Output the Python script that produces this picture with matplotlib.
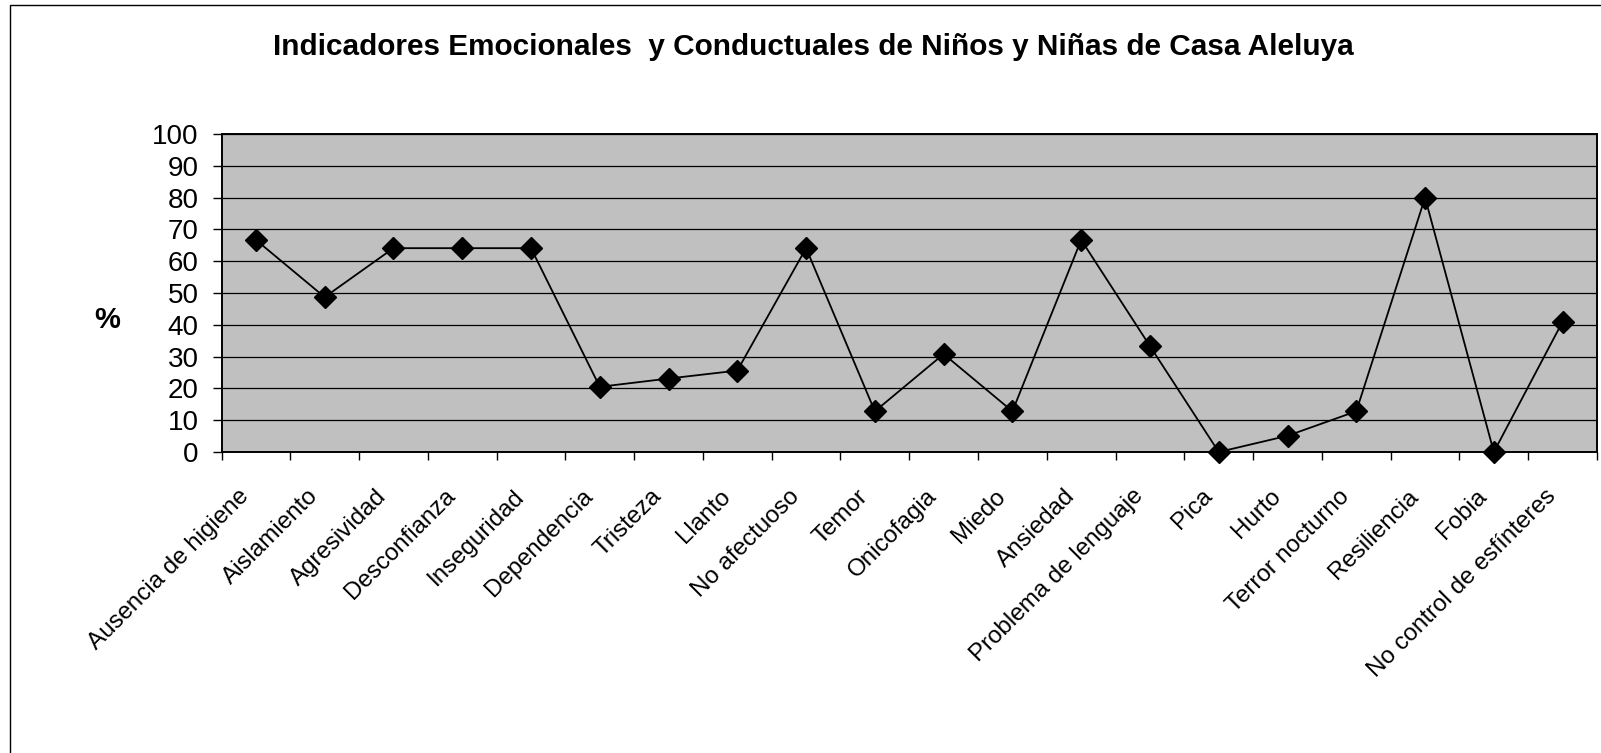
import matplotlib
matplotlib.use("Agg")
import matplotlib.pyplot as plt
from matplotlib.patches import Rectangle
from matplotlib.transforms import ScaledTranslation
import numpy as np

plt.rcParams['font.family'] = ['Liberation Sans', 'DejaVu Sans']

# Data (percent of children)
categories = ['Ausencia de higiene', 'Aislamiento', 'Agresividad', 'Desconfianza',
              'Inseguridad', 'Dependencia', 'Tristeza', 'Llanto', 'No afectuoso',
              'Temor', 'Onicofagia', 'Miedo', 'Ansiedad', 'Problema de lenguaje',
              'Pica', 'Hurto', 'Terror nocturno', 'Resiliencia', 'Fobia',
              'No control de esfínteres']
values = [66.7, 48.7, 64.1, 64.1, 64.1, 20.5, 23.1, 25.6, 64.1, 12.8,
          30.8, 12.8, 66.7, 33.3, 0.0, 5.1, 12.8, 80.0, 0.0, 41.0]
y_ticks = list(range(0, 101, 10))

title = 'Indicadores Emocionales  y Conductuales de Niños y Niñas de Casa Aleluya'

W, H = 1601, 753
fig = plt.figure(figsize=(W / 100, H / 100), dpi=100)

# plot area in pixel coords of the reference
left, right, top, bottom = 221.5, 1597, 134, 452
ax = fig.add_axes([left / W, 1 - bottom / H, (right - left) / W, (bottom - top) / H])
ax.set_facecolor('#c0c0c0')

x = np.arange(len(categories))
ax.plot(x, values, color='black', lw=1.3, marker='D', ms=11.5,
        markerfacecolor='black', markeredgecolor='black', zorder=3, clip_on=False)

ax.set_xlim(-0.5, len(categories) - 0.5)
ax.set_ylim(0, 100)
ax.set_yticks(y_ticks)
ax.set_yticklabels([str(v) for v in y_ticks], fontsize=20)
ax.yaxis.grid(True, color='black', lw=0.9)
ax.set_axisbelow(True)

# category labels near the centre, tick marks on the boundaries
ax.set_xticks(x)
ax.set_xticklabels(categories, rotation=45, ha='right', va='center',
                   rotation_mode='anchor', fontsize=17.4)
ax.tick_params(axis='x', which='major', length=0, pad=29.5)
shift = ScaledTranslation(-10 / 100, 0, fig.dpi_scale_trans)
for lbl in ax.get_xticklabels():
    lbl.set_transform(lbl.get_transform() + shift)
ax.set_xticks(np.arange(-0.5, len(categories)), minor=True)
ax.tick_params(axis='x', which='minor', length=5.5, width=1, direction='out')
ax.tick_params(axis='y', length=6.5, width=1, direction='out', pad=10)

for s in ax.spines.values():
    s.set_linewidth(1.4)
    s.set_color('black')

ax.text(-0.0832, 0.415, '%', transform=ax.transAxes, fontsize=21,
        fontweight='bold', ha='center', va='center')

fig.text(813 / W, 1 - 55 / H, title, fontsize=21.4, fontweight='bold',
         ha='center', va='baseline')

# outer chart frame (cut off on the right and bottom)
fig.patches.append(Rectangle((10 / W, -0.1), 1.2, 1.1 - 5 / H,
                             transform=fig.transFigure, fill=False,
                             edgecolor='black', lw=1.0, clip_on=False))

fig.savefig('out.png', dpi=100)
